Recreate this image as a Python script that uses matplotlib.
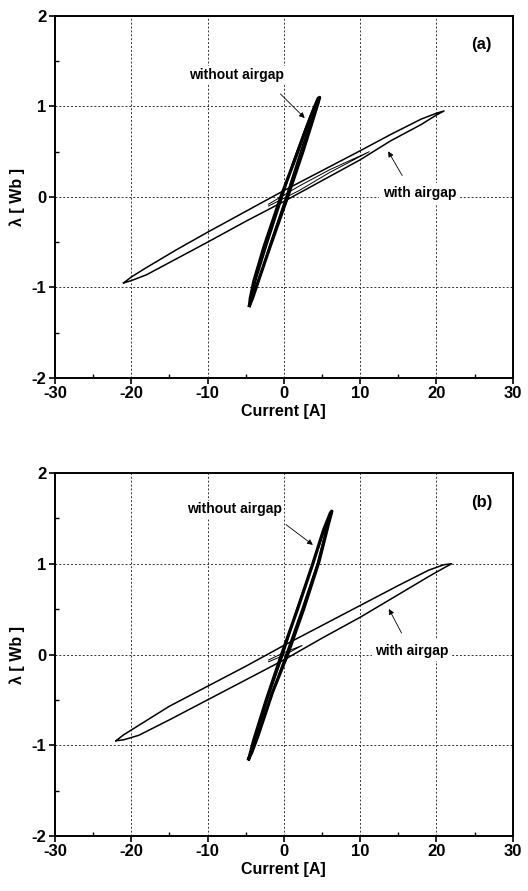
import matplotlib
matplotlib.use("Agg")
import matplotlib.pyplot as plt
from matplotlib.ticker import MultipleLocator

plt.rcParams['font.family'] = ['Liberation Sans', 'DejaVu Sans']
plt.rcParams['font.weight'] = 'bold'
plt.rcParams['axes.unicode_minus'] = False

# ---------------- data ----------------
# Panel (a), with airgap: upper branch then lower branch (closed loop)
a_gap_x = [-21, -20, -18, -14, -10, -5, 0, 5, 10, 14, 18, 20, 21,
           20, 18, 14, 10, 5, 0, -5, -10, -14, -18, -20, -21]
a_gap_y = [-0.95, -0.885, -0.78, -0.58, -0.39, -0.16, 0.07, 0.29, 0.51, 0.69, 0.86, 0.925, 0.95,
           0.905, 0.80, 0.62, 0.41, 0.18, -0.05, -0.27, -0.50, -0.68, -0.86, -0.925, -0.95]
# Panel (a), with airgap: inner minor trace
a_minor_x = [-2, 2, 6, 11.2, 6, 2, -2]
a_minor_y = [-0.08, 0.12, 0.30, 0.50, 0.27, 0.07, -0.10]
# Panel (a), without airgap: outer and inner cycles
a_nogap_x = [-4.5, -4.1, -3.3, -1.8, 0.5, 2.5, 3.8, 4.5, 4.7,
             4.5, 3.9, 2.9, 1.4, -0.4, -2.6, -3.9, -4.4, -4.5]
a_nogap_y = [-1.2, -1.12, -0.92, -0.55, 0.0, 0.5, 0.85, 1.04, 1.1,
             1.09, 0.97, 0.75, 0.4, 0.0, -0.55, -0.92, -1.12, -1.2]
a_nogap2_x = [-4.3, -3.2, -1.5, 0.3, 2.2, 3.5, 4.4, 3.6, 2.6, 1.2, -0.2, -2.2, -3.6, -4.3]
a_nogap2_y = [-1.15, -0.9, -0.45, 0.0, 0.5, 0.83, 1.06, 0.92, 0.7, 0.38, 0.0, -0.52, -0.9, -1.15]

# Panel (b), with airgap
b_gap_x = [-22, -21, -19, -15, -10, -5, 0, 5, 10, 15, 19, 21, 22,
           21, 19, 15, 10, 5, 0, -5, -10, -15, -19, -21, -22]
b_gap_y = [-0.95, -0.885, -0.78, -0.57, -0.35, -0.13, 0.10, 0.32, 0.54, 0.76, 0.93, 0.99, 1.0,
           0.955, 0.86, 0.66, 0.41, 0.18, -0.06, -0.28, -0.50, -0.72, -0.89, -0.94, -0.95]
b_minor_x = [-2, 0, 2.4, 0, -2]
b_minor_y = [-0.06, 0.02, 0.10, -0.01, -0.08]
# Panel (b), without airgap
b_nogap_x = [-4.6, -4.2, -3.4, -1.5, 0.5, 2.6, 4.6, 5.8, 6.3,
             6.1, 5.2, 3.8, 1.8, -0.3, -2.3, -3.9, -4.5, -4.6]
b_nogap_y = [-1.15, -1.08, -0.9, -0.42, 0.0, 0.5, 1.02, 1.42, 1.58,
             1.56, 1.37, 1.0, 0.5, 0.0, -0.5, -0.93, -1.12, -1.15]
b_nogap2_x = [-4.4, -3.2, -1.3, 0.3, 2.4, 4.4, 6.0, 5.0, 3.6, 1.6, -0.1, -2.1, -3.8, -4.4]
b_nogap2_y = [-1.1, -0.85, -0.38, 0.0, 0.5, 1.0, 1.52, 1.3, 0.95, 0.47, 0.0, -0.48, -0.92, -1.1]

x_ticks = [-30, -20, -10, 0, 10, 20, 30]
y_ticks = [-2, -1, 0, 1, 2]

panels = [
    dict(label='(a)', gap=(a_gap_x, a_gap_y), minor=(a_minor_x, a_minor_y),
         nogap=[(a_nogap_x, a_nogap_y), (a_nogap2_x, a_nogap2_y)],
         wo_text=(-6.2, 1.35), wo_arrow=((-0.7, 1.16), (3.0, 0.85)),
         w_text=(17.8, 0.04), w_arrow=((15.7, 0.21), (13.5, 0.53))),
    dict(label='(b)', gap=(b_gap_x, b_gap_y), minor=(b_minor_x, b_minor_y),
         nogap=[(b_nogap_x, b_nogap_y), (b_nogap2_x, b_nogap2_y)],
         wo_text=(-6.4, 1.6), wo_arrow=((0.0, 1.45), (4.1, 1.19)),
         w_text=(16.8, 0.04), w_arrow=((15.6, 0.21), (13.6, 0.53))),
]

fig = plt.figure(figsize=(5.28, 8.91), dpi=100)
positions = [[0.104, 0.5758, 0.867, 0.4063], [0.104, 0.0617, 0.867, 0.4074]]

for pos, p in zip(positions, panels):
    ax = fig.add_axes(pos)
    ax.set_xlim(-30, 30)
    ax.set_ylim(-2, 2)
    ax.set_xticks(x_ticks)
    ax.set_yticks(y_ticks)
    ax.xaxis.set_minor_locator(MultipleLocator(5))
    ax.yaxis.set_minor_locator(MultipleLocator(0.5))
    ax.tick_params(which='major', direction='out', length=4, width=1.2,
                   labelsize=12, pad=2)
    ax.tick_params(which='minor', direction='in', length=3, width=1.0)
    for lab in ax.get_xticklabels() + ax.get_yticklabels():
        lab.set_fontweight('bold')
    for s in ax.spines.values():
        s.set_linewidth(1.4)
    ax.grid(True, which='major', linestyle=(0, (2, 2)), color='#333333', linewidth=0.7)
    ax.set_axisbelow(True)

    ax.plot(*p['gap'], color='black', lw=1.1, zorder=3)
    ax.plot(*p['minor'], color='black', lw=0.7, zorder=3)
    lws = [2.3, 1.3]
    for (xx, yy), lw in zip(p['nogap'], lws):
        ax.plot(xx, yy, color='black', lw=lw, zorder=4)

    ax.set_xlabel('Current [A]', fontsize=11.5, fontweight='bold', labelpad=2)
    ax.set_ylabel('λ [ Wb ]', fontsize=11.5, fontweight='bold', labelpad=5)

    ax.text(0.955, 0.92, p['label'], transform=ax.transAxes, ha='right', va='center',
            fontsize=12, fontweight='bold')

    ax.text(*p['wo_text'], 'without airgap', ha='center', va='center', fontsize=10,
            fontweight='bold', zorder=5,
            bbox=dict(facecolor='white', edgecolor='none', pad=1.0))
    ax.annotate('', xy=p['wo_arrow'][1], xytext=p['wo_arrow'][0],
                arrowprops=dict(arrowstyle='-|>', color='black', lw=0.6,
                                mutation_scale=8), zorder=6)
    ax.text(*p['w_text'], 'with airgap', ha='center', va='center', fontsize=10,
            fontweight='bold', zorder=5,
            bbox=dict(facecolor='white', edgecolor='none', pad=2.5))
    ax.annotate('', xy=p['w_arrow'][1], xytext=p['w_arrow'][0],
                arrowprops=dict(arrowstyle='-|>', color='black', lw=0.6,
                                mutation_scale=8), zorder=6)

fig.savefig('out.png', dpi=100)
